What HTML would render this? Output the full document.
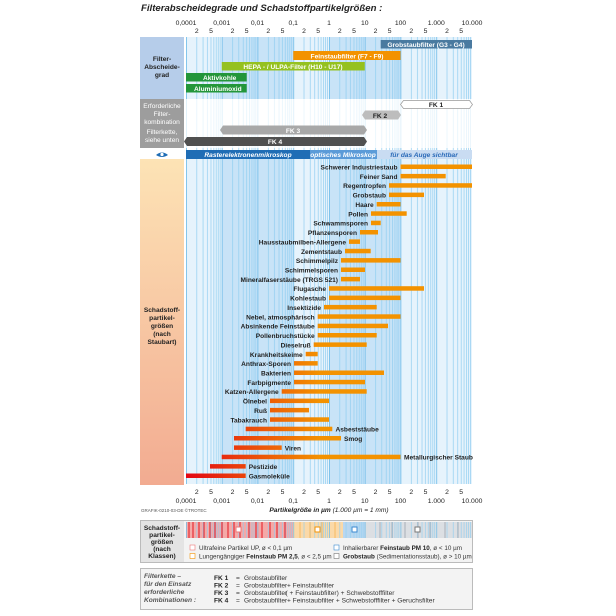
<!DOCTYPE html>
<html><head><meta charset="utf-8"><style>
html,body{margin:0;padding:0;background:#fff}
svg{display:block}
text{font-family:"Liberation Sans Narrow","Liberation Sans",sans-serif}
.b{font-weight:bold;font-size:6.6px;fill:#222}
.w{font-weight:bold;font-size:6.6px;fill:#fff}
.t{font-size:6.8px;fill:#222}
.s{font-size:6.6px;fill:#333}
</style></head><body>
<svg width="616" height="616" viewBox="0 0 616 616" xmlns="http://www.w3.org/2000/svg">
<defs>
<pattern id="g" patternUnits="userSpaceOnUse" x="186" y="0" width="35.75" height="616">
<g stroke="#8fcdf0" stroke-width="0.7">
<line x1="0.3" y1="0" x2="0.3" y2="616" stroke="#6cbbe8" stroke-width="1"/>
<line x1="10.76" y1="0" x2="10.76" y2="616"/><line x1="17.06" y1="0" x2="17.06" y2="616"/>
<line x1="21.52" y1="0" x2="21.52" y2="616"/><line x1="24.99" y1="0" x2="24.99" y2="616"/>
<line x1="27.82" y1="0" x2="27.82" y2="616"/><line x1="30.21" y1="0" x2="30.21" y2="616"/>
<line x1="32.28" y1="0" x2="32.28" y2="616"/><line x1="34.11" y1="0" x2="34.11" y2="616"/>
</g></pattern>
<linearGradient id="og" gradientUnits="userSpaceOnUse" x1="186" y1="0" x2="320" y2="0">
<stop offset="0" stop-color="#e30613"/><stop offset="1" stop-color="#f39200"/></linearGradient>
<linearGradient id="lg" x1="0" y1="0" x2="0" y2="1">
<stop offset="0" stop-color="#fde3b5"/><stop offset="1" stop-color="#f2ab91"/></linearGradient>
</defs>

<text x="141" y="11" style="font-family:'Liberation Sans',sans-serif;font-size:9.6px;font-weight:bold;font-style:italic;fill:#222">Filterabscheidegrade und Schadstoffpartikelgrößen :</text>

<g class="t" text-anchor="middle">
<text x="186" y="25">0,0001</text><text x="221.75" y="25">0,001</text><text x="257.5" y="25">0,01</text><text x="293.25" y="25">0,1</text><text x="329" y="25">1</text><text x="364.75" y="25">10</text><text x="400.5" y="25">100</text><text x="436.25" y="25">1.000</text><text x="472" y="25">10.000</text>
</g>
<g class="t" text-anchor="middle">
<text x="196.8" y="33">2</text><text x="211" y="33">5</text><text x="232.5" y="33">2</text><text x="246.7" y="33">5</text><text x="268.3" y="33">2</text><text x="282.5" y="33">5</text><text x="304" y="33">2</text><text x="318.2" y="33">5</text><text x="339.8" y="33">2</text><text x="354" y="33">5</text><text x="375.5" y="33">2</text><text x="389.7" y="33">5</text><text x="411.3" y="33">2</text><text x="425.5" y="33">5</text><text x="447" y="33">2</text><text x="461.2" y="33">5</text>
<text x="196.8" y="494">2</text><text x="211" y="494">5</text><text x="232.5" y="494">2</text><text x="246.7" y="494">5</text><text x="268.3" y="494">2</text><text x="282.5" y="494">5</text><text x="304" y="494">2</text><text x="318.2" y="494">5</text><text x="339.8" y="494">2</text><text x="354" y="494">5</text><text x="375.5" y="494">2</text><text x="389.7" y="494">5</text><text x="411.3" y="494">2</text><text x="425.5" y="494">5</text><text x="447" y="494">2</text><text x="461.2" y="494">5</text>
</g>
<g class="t" text-anchor="middle">
<text x="186" y="503">0,0001</text><text x="221.75" y="503">0,001</text><text x="257.5" y="503">0,01</text><text x="293.25" y="503">0,1</text><text x="329" y="503">1</text><text x="364.75" y="503">10</text><text x="400.5" y="503">100</text><text x="436.25" y="503">1.000</text><text x="472" y="503">10.000</text>
</g>

<rect x="186" y="37" width="286" height="62" fill="#c8e3f7"/>
<rect x="186" y="159" width="286" height="325" fill="#c8e3f7"/>
<g fill="#e6f3fc">
<rect x="186" y="37" width="35.75" height="62"/><rect x="293.25" y="37" width="35.75" height="62"/><rect x="400.5" y="37" width="71.5" height="62"/>
<rect x="186" y="159" width="35.75" height="325"/><rect x="293.25" y="159" width="35.75" height="325"/><rect x="400.5" y="159" width="71.5" height="325"/>
</g>
<rect x="186" y="37" width="286" height="447" fill="url(#g)"/>
<rect x="186" y="99" width="286" height="49" fill="#fff" opacity="0.75"/>

<rect x="140" y="37" width="44" height="62" fill="#b6cdea"/>
<text class="b" text-anchor="middle"><tspan x="162" y="61">Filter-</tspan><tspan x="162" y="69">Abscheide-</tspan><tspan x="162" y="77">grad</tspan></text>
<rect x="140" y="99" width="44" height="49" fill="#9d9d9d"/>
<text class="w" text-anchor="middle" style="font-weight:normal"><tspan x="162" y="108">Erforderliche</tspan><tspan x="162" y="116">Filter-</tspan><tspan x="162" y="124">kombination</tspan><tspan x="162" y="134">Filterkette,</tspan><tspan x="162" y="142">siehe unten</tspan></text>
<path d="M156,155 q6,-5 12,0 q-6,4 -12,0z" fill="#1f6db5"/><circle cx="162" cy="154.5" r="1.6" fill="#fff"/>
<rect x="140" y="159" width="44" height="326" fill="url(#lg)"/>
<text class="b" text-anchor="middle"><tspan x="162" y="312">Schadstoff-</tspan><tspan x="162" y="320">partikel-</tspan><tspan x="162" y="328">größen</tspan><tspan x="162" y="336">(nach</tspan><tspan x="162" y="344">Staubart)</tspan></text>

<rect x="380.7" y="40" width="91.3" height="8.5" fill="#4a7aa0"/><text class="w" x="426" y="47" text-anchor="middle">Grobstaubfilter (G3 - G4)</text>
<rect x="293.25" y="51" width="107.25" height="9" fill="#f39200"/><text class="w" x="347" y="58.5" text-anchor="middle">Feinstaubfilter (F7 - F9)</text>
<rect x="221.75" y="62" width="143" height="8.5" fill="#95c11f"/><text class="w" x="293" y="69" text-anchor="middle">HEPA - / ULPA-Filter (H10 - U17)</text>
<rect x="186" y="73" width="60.7" height="8.5" fill="#23963a"/><text class="w" x="203" y="80">Aktivkohle</text>
<rect x="186" y="84" width="60.7" height="8.5" fill="#23963a"/><text class="w" x="194" y="91">Aluminiumoxid</text>

<path d="M400.5,104.5 l3,-4 h66 l3,4 l-3,4 h-66z" fill="#fff" stroke="#999" stroke-width="0.7"/><text class="b" x="436" y="107" text-anchor="middle">FK 1</text>
<path d="M362,115 l3,-4.5 h33 l3,4.5 l-3,4.5 h-33z" fill="#bdbdbd"/><text class="b" x="380" y="118" text-anchor="middle">FK 2</text>
<path d="M220,130 l3,-4.5 h141 l3,4.5 l-3,4.5 h-141z" fill="#a8a8a8"/><text class="w" x="293" y="133" text-anchor="middle">FK 3</text>
<path d="M184,141.5 l3,-4.5 h177 l3,4.5 l-3,4.5 h-177z" fill="#505050"/><text class="w" x="275" y="144" text-anchor="middle">FK 4</text>

<rect x="186" y="150" width="124" height="9" fill="#1f6db5"/>
<rect x="310" y="150" width="67" height="9" fill="#5b9bd8"/>
<rect x="377" y="150" width="95" height="9" fill="#c9dcf2"/>
<g style="font-size:6.6px;font-style:italic;font-weight:bold"><text x="248" y="157" text-anchor="middle" fill="#fff" font-family="Liberation Sans Narrow,Liberation Sans,sans-serif">Rasterelektronenmikroskop</text>
<text x="343" y="157" text-anchor="middle" fill="#fff" font-family="Liberation Sans Narrow,Liberation Sans,sans-serif">optisches Mikroskop</text>
<text x="424" y="157" text-anchor="middle" fill="#2a6ab8" font-family="Liberation Sans Narrow,Liberation Sans,sans-serif">für das Auge sichtbar</text></g>

<g fill="url(#og)">
<rect x="400.5" y="164.5" width="71.5" height="4.5"/>
<rect x="400.5" y="173.9" width="45.2" height="4.5"/>
<rect x="389" y="183.2" width="83" height="4.5"/>
<rect x="389" y="192.6" width="35" height="4.5"/>
<rect x="376.7" y="202" width="23.8" height="4.5"/>
<rect x="371" y="211.3" width="35.7" height="4.5"/>
<rect x="371" y="220.7" width="9.7" height="4.5"/>
<rect x="360" y="230" width="18" height="4.5"/>
<rect x="349" y="239.4" width="11" height="4.5"/>
<rect x="345" y="248.8" width="25.7" height="4.5"/>
<rect x="341" y="258.1" width="59.5" height="4.5"/>
<rect x="341" y="267.5" width="24" height="4.5"/>
<rect x="341" y="276.9" width="19" height="4.5"/>
<rect x="329" y="286.2" width="95" height="4.5"/>
<rect x="329" y="295.6" width="71.5" height="4.5"/>
<rect x="324" y="304.9" width="52.7" height="4.5"/>
<rect x="317.7" y="314.3" width="82.8" height="4.5"/>
<rect x="317.7" y="323.7" width="70.3" height="4.5"/>
<rect x="317.7" y="333" width="59" height="4.5"/>
<rect x="313.7" y="342.4" width="53" height="4.5"/>
<rect x="305.7" y="351.8" width="12" height="4.5"/>
<rect x="294" y="361.1" width="23.7" height="4.5"/>
<rect x="294" y="370.5" width="90" height="4.5"/>
<rect x="294" y="379.8" width="71" height="4.5"/>
<rect x="281.7" y="389.2" width="85" height="4.5"/>
<rect x="270" y="398.6" width="59" height="4.5"/>
<rect x="270" y="407.9" width="39" height="4.5"/>
<rect x="270" y="417.3" width="59" height="4.5"/>
<rect x="245.7" y="426.7" width="86.6" height="4.5"/>
<rect x="234" y="436" width="107" height="4.5"/>
<rect x="234" y="445.4" width="47.7" height="4.5"/>
<rect x="221.7" y="454.7" width="178.8" height="4.5"/>
<rect x="210" y="464.1" width="35.7" height="4.5"/>
<rect x="186" y="473.5" width="59.7" height="4.5"/>
</g>
<g class="b" text-anchor="end">
<text x="397.5" y="169.5">Schwerer Industriestaub</text>
<text x="397.5" y="178.9">Feiner Sand</text>
<text x="386" y="188.2">Regentropfen</text>
<text x="386" y="197.6">Grobstaub</text>
<text x="373.7" y="207">Haare</text>
<text x="368" y="216.3">Pollen</text>
<text x="368" y="225.7">Schwammsporen</text>
<text x="357" y="235">Pflanzensporen</text>
<text x="346" y="244.4">Hausstaubmilben-Allergene</text>
<text x="342" y="253.8">Zementstaub</text>
<text x="338" y="263.1">Schimmelpilz</text>
<text x="338" y="272.5">Schimmelsporen</text>
<text x="338" y="281.9">Mineralfaserstäube (TRGS 521)</text>
<text x="326" y="291.2">Flugasche</text>
<text x="326" y="300.6">Kohlestaub</text>
<text x="321" y="309.9">Insektizide</text>
<text x="314.7" y="319.3">Nebel, atmosphärisch</text>
<text x="314.7" y="328.7">Absinkende Feinstäube</text>
<text x="314.7" y="338">Pollenbruchstücke</text>
<text x="310.7" y="347.4">Dieselruß</text>
<text x="302.7" y="356.8">Krankheitskeime</text>
<text x="291" y="366.1">Anthrax-Sporen</text>
<text x="291" y="375.5">Bakterien</text>
<text x="291" y="384.8">Farbpigmente</text>
<text x="278.7" y="394.2">Katzen-Allergene</text>
<text x="267" y="403.6">Ölnebel</text>
<text x="267" y="412.9">Ruß</text>
<text x="267" y="422.3">Tabakrauch</text>
</g>
<g class="b">
<text x="335.5" y="431.7">Asbeststäube</text>
<text x="344" y="441">Smog</text>
<text x="284.7" y="450.4">Viren</text>
<text x="404" y="459.7">Metallurgischer Staub</text>
<text x="248.7" y="469.1">Pestizide</text>
<text x="248.7" y="478.5">Gasmoleküle</text>
</g>

<text x="141" y="512" style="font-size:4.5px;fill:#555">GRAFIK-0210-03-DE ©TROTEC</text>
<text x="329" y="512" text-anchor="middle" style="font-size:6.6px;font-style:italic;fill:#222" font-family="Liberation Sans Narrow,Liberation Sans,sans-serif"><tspan font-weight="bold">Partikelgröße in µm</tspan> (1.000 µm = 1 mm)</text>

<rect x="140.5" y="520.5" width="332" height="42" fill="#f3f3f3" stroke="#bbb"/>
<rect x="141" y="521" width="43" height="41" fill="#e4e4e4"/>
<text class="b" text-anchor="middle"><tspan x="162" y="530">Schadstoff-</tspan><tspan x="162" y="537">partikel-</tspan><tspan x="162" y="544">größen</tspan><tspan x="162" y="551">(nach</tspan><tspan x="162" y="558">Klassen)</tspan></text>
<rect x="186" y="522" width="107" height="16" fill="#f4a9a7"/>
<rect x="293" y="522" width="50" height="16" fill="#fbd9a8"/>
<rect x="343" y="522" width="22" height="16" fill="#b9d7f0"/>
<rect x="365" y="522" width="107" height="16" fill="#dcdfe3"/>
<rect x="186" y="522" width="286" height="16" fill="url(#g)" opacity="0.9"/>
<g stroke="#e30613" stroke-width="0.9">
<line x1="189" y1="522" x2="189" y2="538"/><line x1="193" y1="522" x2="193" y2="538"/><line x1="199" y1="522" x2="199" y2="538"/><line x1="204" y1="522" x2="204" y2="538"/><line x1="210" y1="522" x2="210" y2="538"/><line x1="215" y1="522" x2="215" y2="538"/><line x1="222" y1="522" x2="222" y2="538"/><line x1="228" y1="522" x2="228" y2="538"/><line x1="234" y1="522" x2="234" y2="538"/><line x1="240" y1="522" x2="240" y2="538"/><line x1="249" y1="522" x2="249" y2="538"/><line x1="256" y1="522" x2="256" y2="538"/><line x1="262" y1="522" x2="262" y2="538"/><line x1="270" y1="522" x2="270" y2="538"/><line x1="277" y1="522" x2="277" y2="538"/><line x1="285" y1="522" x2="285" y2="538"/>
</g>
<g stroke="#f7b250" stroke-width="0.8"><line x1="300" y1="522" x2="300" y2="538"/><line x1="310" y1="522" x2="310" y2="538"/><line x1="322" y1="522" x2="322" y2="538"/><line x1="335" y1="522" x2="335" y2="538"/></g>
<g stroke="#9aa3ad" stroke-width="0.8"><line x1="380" y1="522" x2="380" y2="538"/><line x1="392" y1="522" x2="392" y2="538"/><line x1="405" y1="522" x2="405" y2="538"/><line x1="418" y1="522" x2="418" y2="538"/><line x1="430" y1="522" x2="430" y2="538"/><line x1="445" y1="522" x2="445" y2="538"/><line x1="458" y1="522" x2="458" y2="538"/></g>
<rect x="236" y="527" width="5" height="5" fill="#fff" stroke="#e77"/>
<rect x="315" y="527" width="5" height="5" fill="#fff" stroke="#f39200"/>
<rect x="352" y="527" width="5" height="5" fill="#fff" stroke="#3a8ad0"/>
<rect x="415" y="527" width="5" height="5" fill="#fff" stroke="#777"/>
<rect x="190" y="545" width="5" height="5" fill="#fff" stroke="#e77" stroke-width="0.6"/>
<rect x="190" y="553.5" width="5" height="5" fill="#fff" stroke="#f39200" stroke-width="0.6"/>
<rect x="334" y="545" width="5" height="5" fill="#fff" stroke="#3a8ad0" stroke-width="0.6"/>
<rect x="334" y="553.5" width="5" height="5" fill="#fff" stroke="#777" stroke-width="0.6"/>
<g class="s" style="font-size:6.3px">
<text x="199" y="550">Ultrafeine Partikel UP, ø &lt; 0,1 µm</text>
<text x="199" y="558.5">Lungengängiger <tspan font-weight="bold" fill="#222">Feinstaub PM 2,5</tspan>, ø &lt; 2,5 µm</text>
<text x="343" y="550">Inhalierbarer <tspan font-weight="bold" fill="#222">Feinstaub PM 10</tspan>, ø &lt; 10 µm</text>
<text x="343" y="558.5"><tspan font-weight="bold" fill="#222">Grobstaub</tspan> (Sedimentationsstaub), ø &gt; 10 µm</text>
</g>

<rect x="140.5" y="568.5" width="332" height="41" fill="#f3f3f3" stroke="#bbb"/>
<text style="font-size:6.6px;font-weight:bold;font-style:italic;fill:#555" font-family="Liberation Sans,sans-serif"><tspan x="144" y="578">Filterkette –</tspan><tspan x="144" y="586">für den Einsatz</tspan><tspan x="144" y="594">erforderliche</tspan><tspan x="144" y="602">Kombinationen :</tspan></text>
<g class="b"><text x="214" y="580">FK 1</text><text x="214" y="587.5">FK 2</text><text x="214" y="595">FK 3</text><text x="214" y="602.5">FK 4</text></g>
<g class="s">
<text x="236" y="580">=</text><text x="236" y="587.5">=</text><text x="236" y="595">=</text><text x="236" y="602.5">=</text>
<text x="244" y="580">Grobstaubfilter</text>
<text x="244" y="587.5">Grobstaubfilter</text><text x="287" y="587.5">+ Feinstaubfilter</text>
<text x="244" y="595">Grobstaubfilter</text><text x="285.5" y="595">( + Feinstaubfilter) + Schwebstofffilter</text>
<text x="244" y="602.5">Grobstaubfilter</text><text x="287" y="602.5">+ Feinstaubfilter + Schwebstofffilter + Geruchsfilter</text>
</g>
</svg>
</body></html>
